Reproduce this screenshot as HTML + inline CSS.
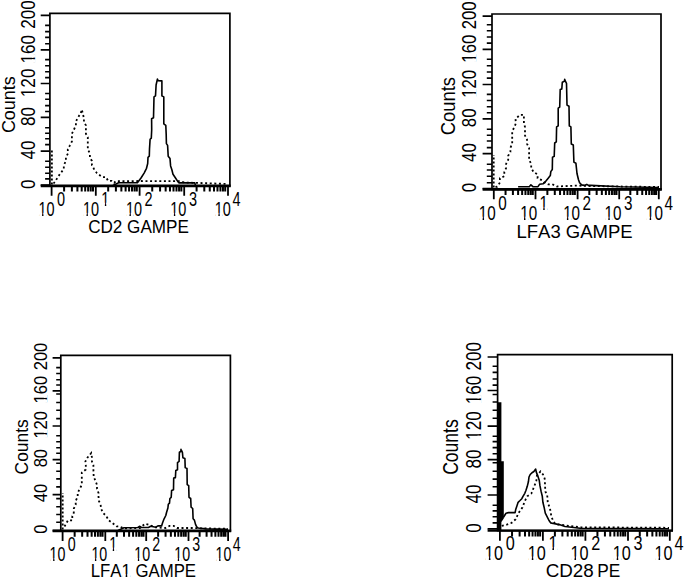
<!DOCTYPE html>
<html><head><meta charset="utf-8"><style>
html,body{margin:0;padding:0;background:#fff;overflow:hidden;width:685px;height:579px;}
svg{display:block;}
text{font-family:"Liberation Sans",sans-serif;font-size:17px;fill:#000;font-kerning:none;}
</style></head><body>
<svg width="685" height="579" viewBox="0 0 685 579">
<rect width="685" height="579" fill="#fff"/>
<path d="M49.9 13.3H229.9V185.8H49.9Z" fill="none" stroke="#000" stroke-width="1.7"/>
<path d="M40.7 185.8H230.7" stroke="#000" stroke-width="2.8"/>
<path d="M40.7 185.1H49.9M40.7 151.1H49.9M40.7 117.3H49.9M40.7 83.5H49.9M40.7 49.8H49.9M40.7 15.3H49.9" stroke="#000" stroke-width="1.7"/>
<path d="M45.1 25.4H49.9M45.1 31.6H49.9M45.1 37.4H49.9M45.1 43.8H49.9M45.1 59.6H49.9M45.1 65.7H49.9M45.1 71.8H49.9M45.1 77.6H49.9M45.1 93.5H49.9M45.1 99.3H49.9M45.1 105.6H49.9M45.1 111.5H49.9M45.1 127.7H49.9M45.1 133.2H49.9M45.1 138.7H49.9M45.1 144.6H49.9M45.1 161.2H49.9M45.1 167.2H49.9M45.1 173.2H49.9M45.1 178.9H49.9" stroke="#000" stroke-width="1.6"/>
<path d="M51.6 185.8V195.8M95.8 185.8V195.8M139.6 185.8V195.8M184.2 185.8V195.8M228 185.8V195.8" stroke="#000" stroke-width="1.8"/>
<path d="M64.11 185.8V191.6M71.89 185.8V191.6M77.41 185.8V191.6M81.69 185.8V191.6M85.19 185.8V191.6M88.15 185.8V191.6M90.72 185.8V191.6M92.98 185.8V191.6M108.19 185.8V191.6M115.9 185.8V191.6M121.37 185.8V191.6M125.61 185.8V191.6M129.08 185.8V191.6M132.02 185.8V191.6M134.56 185.8V191.6M136.8 185.8V191.6M152.23 185.8V191.6M160.08 185.8V191.6M165.65 185.8V191.6M169.97 185.8V191.6M173.51 185.8V191.6M176.49 185.8V191.6M179.08 185.8V191.6M181.36 185.8V191.6M196.59 185.8V191.6M204.3 185.8V191.6M209.77 185.8V191.6M214.01 185.8V191.6M217.48 185.8V191.6M220.42 185.8V191.6M222.96 185.8V191.6M225.2 185.8V191.6" stroke="#000" stroke-width="2.0"/>
<g transform="translate(34.9 184.1) rotate(-90) translate(-4.79 0) scale(0.88 1)"><text style="font-size:19.5px">0</text></g>
<g transform="translate(34.9 150.1) rotate(-90) translate(-9.45 0) scale(0.88 1)"><text style="font-size:19.5px">40</text></g>
<g transform="translate(34.9 116.3) rotate(-90) translate(-9.62 0) scale(0.88 1)"><text style="font-size:19.5px">80</text></g>
<g transform="translate(34.9 82.5) rotate(-90) translate(-14.7 0) scale(0.88 1)"><text style="font-size:19.5px">120</text><rect x="0.88" y="-2.92" width="3.94" height="3.9" fill="#fff"/><rect x="6.69" y="-2.92" width="3.74" height="3.9" fill="#fff"/></g>
<g transform="translate(34.9 48.8) rotate(-90) translate(-14.7 0) scale(0.88 1)"><text style="font-size:19.5px">160</text><rect x="0.88" y="-2.92" width="3.94" height="3.9" fill="#fff"/><rect x="6.69" y="-2.92" width="3.74" height="3.9" fill="#fff"/></g>
<g transform="translate(34.9 14.3) rotate(-90) translate(-14.47 0) scale(0.88 1)"><text style="font-size:19.5px">200</text></g>
<text transform="translate(14.6 104.5) rotate(-90) translate(-28.62 0) scale(0.9464 1)" style="font-size:19px">Counts</text>
<g transform="translate(38.5 215.7) scale(0.75 1)"><text style="font-size:19.3px">10</text><rect x="0.87" y="-2.9" width="3.9" height="3.86" fill="#fff"/><rect x="6.62" y="-2.9" width="3.71" height="3.86" fill="#fff"/></g>
<g transform="translate(57.09 205.6) scale(0.75 1)"><text style="font-size:19.3px">0</text></g>
<g transform="translate(82.9 215.7) scale(0.75 1)"><text style="font-size:19.3px">10</text><rect x="0.87" y="-2.9" width="3.9" height="3.86" fill="#fff"/><rect x="6.62" y="-2.9" width="3.71" height="3.86" fill="#fff"/></g>
<g transform="translate(101.29 205.6) scale(0.75 1)"><text style="font-size:19.3px">1</text><rect x="0.87" y="-2.9" width="3.9" height="3.86" fill="#fff"/><rect x="6.62" y="-2.9" width="3.71" height="3.86" fill="#fff"/></g>
<g transform="translate(125.9 215.7) scale(0.75 1)"><text style="font-size:19.3px">10</text><rect x="0.87" y="-2.9" width="3.9" height="3.86" fill="#fff"/><rect x="6.62" y="-2.9" width="3.71" height="3.86" fill="#fff"/></g>
<g transform="translate(144.49 205.6) scale(0.75 1)"><text style="font-size:19.3px">2</text></g>
<g transform="translate(170.3 215.7) scale(0.75 1)"><text style="font-size:19.3px">10</text><rect x="0.87" y="-2.9" width="3.9" height="3.86" fill="#fff"/><rect x="6.62" y="-2.9" width="3.71" height="3.86" fill="#fff"/></g>
<g transform="translate(188.93 205.6) scale(0.75 1)"><text style="font-size:19.3px">3</text></g>
<g transform="translate(214.8 215.7) scale(0.75 1)"><text style="font-size:19.3px">10</text><rect x="0.87" y="-2.9" width="3.9" height="3.86" fill="#fff"/><rect x="6.62" y="-2.9" width="3.71" height="3.86" fill="#fff"/></g>
<g transform="translate(232.43 205.6) scale(0.75 1)"><text style="font-size:19.3px">4</text></g>
<g transform="translate(88.13 232.7) scale(0.9508 1)"><text style="font-size:18px">CD2 GAMPE</text></g>
<polyline points="53.5,183.5 55.7,180.8 57.7,177.1 60.8,173 63.8,168.9 63.8,165.3 65.9,161 65.9,157.2 67.9,153.6 67.8,149.2 69.8,145.6 71.9,141.5 71.9,133.7 74,129.5 75.9,125.4 75.9,121.6 77.8,117.6 80.7,113.5 81.8,109.5 83.8,117.6 84,121.6 85.9,125.4 85.9,133.7 87.8,137.3 87.8,149.2 89.9,153.6 89.9,157.2 91.9,161 91.9,165.3 94,168.9 96.8,173 102.1,177.1 106,177.1 108.1,180.8 111.8,180.8 114.2,182.7 116,181 125,181.2 140,181 160,181.2 179,181.2 185,182.5 200,183 228,184" fill="none" stroke="#000" stroke-width="1.8" stroke-dasharray="2 2.6"/>
<polyline points="51.9,184.5 51.9,150.5" fill="none" stroke="#000" stroke-width="1.8" stroke-dasharray="2 2"/>
<polyline points="113,185.5 118.6,182.8 137.4,182.8 141,178 144.1,173.1 146.5,168.3 147.7,163.5 148,157.4 149.3,156.2 149.5,149 150.1,139.3 151.3,138.1 151.7,129.7 151.6,118.7 153.5,117.7 154,96.9 155.5,95.9 156.1,85 157.4,79.1 158.1,80.6 161.9,80.9 161.9,95.9 163.8,96.9 163.8,123.9 165.8,125.4 166.2,134.5 166.4,143.6 167.6,145.4 168.2,156.2 170,158.6 170.6,165.9 171.8,169.5 173,174.3 175.5,178 177.9,181.6 179.1,182.9 194.8,182.9 195.5,185.5" fill="none" stroke="#000" stroke-width="1.6" stroke-linejoin="round"/>
<path d="M492 14H661V189.3H492Z" fill="none" stroke="#000" stroke-width="1.7"/>
<path d="M482.6 189.3H661.8" stroke="#000" stroke-width="2.8"/>
<path d="M482.6 188.7H492M482.6 153.7H492M482.6 118.8H492M482.6 84.5H492M482.6 49.4H492M482.6 16.2H492" stroke="#000" stroke-width="1.7"/>
<path d="M486.8 24.7H492M486.8 30.7H492M486.8 37H492M486.8 43.1H492M486.8 59.3H492M486.8 65.8H492M486.8 72H492M486.8 78.1H492M486.8 94.4H492M486.8 100.5H492M486.8 106.7H492M486.8 112.8H492M486.8 129.3H492M486.8 135.2H492M486.8 141H492M486.8 147.6H492M486.8 164.2H492M486.8 170H492M486.8 176.2H492M486.8 182.7H492" stroke="#000" stroke-width="1.6"/>
<path d="M493.8 189.3V199.3M535.5 189.3V199.3M577.6 189.3V199.3M619.2 189.3V199.3M658.8 189.3V199.3" stroke="#000" stroke-width="1.8"/>
<path d="M505.55 189.3V195.1M512.9 189.3V195.1M518.11 189.3V195.1M522.15 189.3V195.1M525.45 189.3V195.1M528.24 189.3V195.1M530.66 189.3V195.1M532.79 189.3V195.1M547.37 189.3V195.1M554.79 189.3V195.1M560.05 189.3V195.1M564.13 189.3V195.1M567.46 189.3V195.1M570.28 189.3V195.1M572.72 189.3V195.1M574.87 189.3V195.1M589.32 189.3V195.1M596.65 189.3V195.1M601.85 189.3V195.1M605.88 189.3V195.1M609.17 189.3V195.1M611.96 189.3V195.1M614.37 189.3V195.1M616.5 189.3V195.1M630.32 189.3V195.1M637.29 189.3V195.1M642.24 189.3V195.1M646.08 189.3V195.1M649.21 189.3V195.1M651.87 189.3V195.1M654.16 189.3V195.1M656.19 189.3V195.1" stroke="#000" stroke-width="2.0"/>
<g transform="translate(475.6 187.7) rotate(-90) translate(-4.66 0) scale(0.83 1)"><text style="font-size:20.2px">0</text></g>
<g transform="translate(475.6 152.7) rotate(-90) translate(-9.19 0) scale(0.83 1)"><text style="font-size:20.2px">40</text></g>
<g transform="translate(475.6 117.8) rotate(-90) translate(-9.36 0) scale(0.83 1)"><text style="font-size:20.2px">80</text></g>
<g transform="translate(475.6 83.5) rotate(-90) translate(-14.29 0) scale(0.83 1)"><text style="font-size:20.2px">120</text><rect x="0.91" y="-3.03" width="4.08" height="4.04" fill="#fff"/><rect x="6.93" y="-3.03" width="3.88" height="4.04" fill="#fff"/></g>
<g transform="translate(475.6 48.4) rotate(-90) translate(-14.29 0) scale(0.83 1)"><text style="font-size:20.2px">160</text><rect x="0.91" y="-3.03" width="4.08" height="4.04" fill="#fff"/><rect x="6.93" y="-3.03" width="3.88" height="4.04" fill="#fff"/></g>
<g transform="translate(475.6 15.2) rotate(-90) translate(-14.08 0) scale(0.83 1)"><text style="font-size:20.2px">200</text></g>
<text transform="translate(454.7 106) rotate(-90) translate(-29.34 0) scale(0.9218 1)" style="font-size:20px">Counts</text>
<g transform="translate(478.84 219.7) scale(0.75 1)"><text style="font-size:20.3px">10</text><rect x="0.91" y="-3.04" width="4.1" height="4.06" fill="#fff"/><rect x="6.96" y="-3.04" width="3.9" height="4.06" fill="#fff"/></g>
<g transform="translate(498.27 209.9) scale(0.75 1)"><text style="font-size:20.3px">0</text></g>
<g transform="translate(520.24 219.7) scale(0.75 1)"><text style="font-size:20.3px">10</text><rect x="0.91" y="-3.04" width="4.1" height="4.06" fill="#fff"/><rect x="6.96" y="-3.04" width="3.9" height="4.06" fill="#fff"/></g>
<g transform="translate(539.47 209.9) scale(0.75 1)"><text style="font-size:20.3px">1</text><rect x="0.91" y="-3.04" width="4.1" height="4.06" fill="#fff"/><rect x="6.96" y="-3.04" width="3.9" height="4.06" fill="#fff"/></g>
<g transform="translate(563.14 219.7) scale(0.75 1)"><text style="font-size:20.3px">10</text><rect x="0.91" y="-3.04" width="4.1" height="4.06" fill="#fff"/><rect x="6.96" y="-3.04" width="3.9" height="4.06" fill="#fff"/></g>
<g transform="translate(582.57 209.9) scale(0.75 1)"><text style="font-size:20.3px">2</text></g>
<g transform="translate(604.54 219.7) scale(0.75 1)"><text style="font-size:20.3px">10</text><rect x="0.91" y="-3.04" width="4.1" height="4.06" fill="#fff"/><rect x="6.96" y="-3.04" width="3.9" height="4.06" fill="#fff"/></g>
<g transform="translate(624.02 209.9) scale(0.75 1)"><text style="font-size:20.3px">3</text></g>
<g transform="translate(645.94 219.7) scale(0.75 1)"><text style="font-size:20.3px">10</text><rect x="0.91" y="-3.04" width="4.1" height="4.06" fill="#fff"/><rect x="6.96" y="-3.04" width="3.9" height="4.06" fill="#fff"/></g>
<g transform="translate(664.42 209.9) scale(0.75 1)"><text style="font-size:20.3px">4</text></g>
<g transform="translate(516.48 237.6) scale(1.0291 1)"><text style="font-size:18px">LFA3 GAMPE</text></g>
<polyline points="495.5,187 497.2,186.7 499.9,182.6 499.9,178.2 504.3,176.2 504.3,172.1 506.1,168 506.1,163.9 508.2,159.8 508.2,155.7 510.4,151.9 510.4,147.8 512.2,143.8 512.2,131.2 514.4,127.1 515.9,123.2 515.5,119 519.9,114.9 523.9,114.9 523.9,119 523.9,123.2 525,127.1 525,135.6 527,139.4 527,143.8 529.1,147.8 529.1,159.8 531.2,163.9 531.2,168 533.6,172.1 537.6,174.4 537.6,178.2 541.9,180.2 544.1,182.3 548.2,184.3 552.3,184.3 556.9,186.5 576,185.6 590,186 620,186.5 659,187" fill="none" stroke="#000" stroke-width="1.8" stroke-dasharray="2 2.6"/>
<polyline points="493.7,187.5 493.7,155" fill="none" stroke="#000" stroke-width="1.8" stroke-dasharray="2 2"/>
<polyline points="518.1,186.7 529.3,186.7 530.9,184.8 532.9,186.7 538,186.7 539.5,184.3 543.1,183.8 545.7,181.3 548.2,178.2 550.3,175.6 550.8,171.6 552.3,169.5 552.5,157.3 554.2,156.4 554.7,143 556.3,141.9 556.6,126.9 558.2,125.9 558.2,108.2 559.7,107.2 560.2,89.6 561.8,89 562.3,82.3 564.4,81.3 564.7,79.4 564.9,80.2 566.5,83.3 567,105.1 569,106.2 569.3,125.9 570.9,126.9 571.3,144 573.3,145 573.9,162.1 575.9,163.2 577,173.5 578.5,179.7 579.6,182.8 581.6,184.9 584.2,185.4 586.8,184.4 588.4,185.4 591,185.4 620,186.8 659,187.5" fill="none" stroke="#000" stroke-width="1.6" stroke-linejoin="round"/>
<path d="M60.8 355.4H230.4V530.9H60.8Z" fill="none" stroke="#000" stroke-width="1.7"/>
<path d="M52.6 530.9H231.2" stroke="#000" stroke-width="2.8"/>
<path d="M52.6 530.7H60.8M52.6 494.6H60.8M52.6 459.6H60.8M52.6 426H60.8M52.6 390.9H60.8M52.6 357.9H60.8" stroke="#000" stroke-width="1.7"/>
<path d="M56.2 367.6H60.8M56.2 373.5H60.8M56.2 379.7H60.8M56.2 385H60.8M56.2 394H60.8M56.2 402.5H60.8M56.2 410.3H60.8M56.2 418.6H60.8M56.2 435.8H60.8M56.2 441.8H60.8M56.2 447.8H60.8M56.2 453.2H60.8M56.2 463.2H60.8M56.2 471.3H60.8M56.2 478.9H60.8M56.2 486.9H60.8M56.2 498.6H60.8M56.2 506.7H60.8M56.2 514.5H60.8M56.2 522.2H60.8" stroke="#000" stroke-width="1.6"/>
<path d="M62.6 530.9V540.9M105.3 530.9V540.9M146.2 530.9V540.9M188.5 530.9V540.9M228.1 530.9V540.9" stroke="#000" stroke-width="1.8"/>
<path d="M74.65 530.9V536.7M82.17 530.9V536.7M87.51 530.9V536.7M91.65 530.9V536.7M95.03 530.9V536.7M97.89 530.9V536.7M100.36 530.9V536.7M102.55 530.9V536.7M116.81 530.9V536.7M124.01 530.9V536.7M129.12 530.9V536.7M133.09 530.9V536.7M136.33 530.9V536.7M139.06 530.9V536.7M141.44 530.9V536.7M143.53 530.9V536.7M158.13 530.9V536.7M165.58 530.9V536.7M170.87 530.9V536.7M174.97 530.9V536.7M178.32 530.9V536.7M181.15 530.9V536.7M183.6 530.9V536.7M185.76 530.9V536.7M199.62 530.9V536.7M206.59 530.9V536.7M211.54 530.9V536.7M215.38 530.9V536.7M218.51 530.9V536.7M221.17 530.9V536.7M223.46 530.9V536.7M225.49 530.9V536.7" stroke="#000" stroke-width="2.0"/>
<g transform="translate(46.6 529.2) rotate(-90) translate(-4.6 0) scale(0.91 1)"><text style="font-size:18.2px">0</text></g>
<g transform="translate(46.6 493.1) rotate(-90) translate(-9.08 0) scale(0.91 1)"><text style="font-size:18.2px">40</text></g>
<g transform="translate(46.6 458.1) rotate(-90) translate(-9.24 0) scale(0.91 1)"><text style="font-size:18.2px">80</text></g>
<g transform="translate(46.6 424.5) rotate(-90) translate(-14.12 0) scale(0.91 1)"><text style="font-size:18.2px">120</text><rect x="0.82" y="-2.73" width="3.68" height="3.64" fill="#fff"/><rect x="6.24" y="-2.73" width="3.49" height="3.64" fill="#fff"/></g>
<g transform="translate(46.6 389.4) rotate(-90) translate(-14.12 0) scale(0.91 1)"><text style="font-size:18.2px">160</text><rect x="0.82" y="-2.73" width="3.68" height="3.64" fill="#fff"/><rect x="6.24" y="-2.73" width="3.49" height="3.64" fill="#fff"/></g>
<g transform="translate(46.6 356.4) rotate(-90) translate(-13.9 0) scale(0.91 1)"><text style="font-size:18.2px">200</text></g>
<text transform="translate(27.7 446.7) rotate(-90) translate(-27.69 0) scale(0.9507 1)" style="font-size:18.3px">Counts</text>
<g transform="translate(49.62 561.1) scale(0.72 1)"><text style="font-size:19.8px">10</text><rect x="0.89" y="-2.97" width="4" height="3.96" fill="#fff"/><rect x="6.79" y="-2.97" width="3.8" height="3.96" fill="#fff"/></g>
<g transform="translate(67.64 550.5) scale(0.72 1)"><text style="font-size:19.8px">0</text></g>
<g transform="translate(91.42 561.1) scale(0.72 1)"><text style="font-size:19.8px">10</text><rect x="0.89" y="-2.97" width="4" height="3.96" fill="#fff"/><rect x="6.79" y="-2.97" width="3.8" height="3.96" fill="#fff"/></g>
<g transform="translate(109.24 550.5) scale(0.72 1)"><text style="font-size:19.8px">1</text><rect x="0.89" y="-2.97" width="4" height="3.96" fill="#fff"/><rect x="6.79" y="-2.97" width="3.8" height="3.96" fill="#fff"/></g>
<g transform="translate(134.32 561.1) scale(0.72 1)"><text style="font-size:19.8px">10</text><rect x="0.89" y="-2.97" width="4" height="3.96" fill="#fff"/><rect x="6.79" y="-2.97" width="3.8" height="3.96" fill="#fff"/></g>
<g transform="translate(152.34 550.5) scale(0.72 1)"><text style="font-size:19.8px">2</text></g>
<g transform="translate(174.22 561.1) scale(0.72 1)"><text style="font-size:19.8px">10</text><rect x="0.89" y="-2.97" width="4" height="3.96" fill="#fff"/><rect x="6.79" y="-2.97" width="3.8" height="3.96" fill="#fff"/></g>
<g transform="translate(192.28 550.5) scale(0.72 1)"><text style="font-size:19.8px">3</text></g>
<g transform="translate(215.62 561.1) scale(0.72 1)"><text style="font-size:19.8px">10</text><rect x="0.89" y="-2.97" width="4" height="3.96" fill="#fff"/><rect x="6.79" y="-2.97" width="3.8" height="3.96" fill="#fff"/></g>
<g transform="translate(232.68 550.5) scale(0.72 1)"><text style="font-size:19.8px">4</text></g>
<g transform="translate(90.72 577) scale(0.9326 1)"><text style="font-size:18px">LFA1 GAMPE</text><rect x="33.82" y="-2.7" width="3.64" height="3.6" fill="#fff"/><rect x="39.19" y="-2.7" width="3.46" height="3.6" fill="#fff"/></g>
<polyline points="64.5,526.5 65.8,524.2 68,520.3 72.3,520.3 72.3,516.2 73.8,512.6 73.8,508.7 75.7,504.6 75.7,501 77.7,496.6 77.7,493 79.6,488.9 81.8,485 81.8,472.7 85.8,469.5 85.8,465.1 85.4,461.4 87.6,457.4 91.2,453.1 91.9,457.4 91.9,461.4 93.4,465.1 93.4,469.5 93.7,477 95.6,481.1 97,485 97,488.9 98.5,493 98.5,496.6 98.9,501 100.6,504.6 101.1,508.7 102.8,512.6 106.4,516.2 108.6,520.3 112,522.7 116.6,526.4 119.5,526.4 123.9,528.4 140,528 145,523.8 150.7,525.4 155,527.3 165.4,528 169.5,525.9 173.7,525.9 177,528 194,528 200,528.3 228,528.8" fill="none" stroke="#000" stroke-width="1.8" stroke-dasharray="2 2.6"/>
<polyline points="62.7,529.5 62.7,493" fill="none" stroke="#000" stroke-width="1.8" stroke-dasharray="2 2"/>
<polyline points="118,530.5 123.9,527.8 137.9,527.5 139.5,526.3 141.5,527.5 148.4,527.5 150.7,526.3 155.8,527.2 157.9,525.9 161.6,525.9 162.5,523 164.1,518.8 165.8,515.5 166.6,512.2 167.9,508 168.3,504.3 169.5,503.1 169.9,498.5 171.2,497.3 171.6,490.6 173.5,489.8 173.7,478 175.4,477.6 175.8,470.5 177.5,469.7 177.5,462.6 179.1,461.4 179.4,452.3 180.8,451.5 181,449.2 181.2,449.8 182.4,452.3 182.9,457.7 184.9,458.5 185.2,467.6 187,468.4 187.2,484.6 188.7,485.6 189,497.3 190.7,498.5 191.1,507.2 192.7,508.5 193.1,518.8 194.4,520.1 195.6,524.6 196.9,527.1 198.1,528 206,528.9 228,529.4" fill="none" stroke="#000" stroke-width="1.6" stroke-linejoin="round"/>
<path d="M497.6 354.6H672.2V530.7H497.6Z" fill="none" stroke="#000" stroke-width="1.7"/>
<path d="M487.6 530.7H673" stroke="#000" stroke-width="2.2"/>
<path d="M487.6 528.9H497.6M487.6 495H497.6M487.6 459.7H497.6M487.6 426.1H497.6M487.6 390.5H497.6M487.6 357H497.6" stroke="#000" stroke-width="1.7"/>
<path d="M492.6 366.3H497.6M492.6 372.4H497.6M492.6 379H497.6M492.6 385.1H497.6M492.6 394.5H497.6M492.6 402H497.6M492.6 410.2H497.6M492.6 418.3H497.6M492.6 436.2H497.6M492.6 441.6H497.6M492.6 447.6H497.6M492.6 453.7H497.6M492.6 462.8H497.6M492.6 471.2H497.6M492.6 479.1H497.6M492.6 486.8H497.6M492.6 505.2H497.6M492.6 510.9H497.6M492.6 516.8H497.6M492.6 522.9H497.6" stroke="#000" stroke-width="1.6"/>
<path d="M499.9 530.7V540.7M542.9 530.7V540.7M585.4 530.7V540.7M628 530.7V540.7M669.8 530.7V540.7" stroke="#000" stroke-width="1.8"/>
<path d="M512.04 530.7V536.5M519.62 530.7V536.5M524.99 530.7V536.5M529.16 530.7V536.5M532.56 530.7V536.5M535.44 530.7V536.5M537.93 530.7V536.5M540.13 530.7V536.5M554.89 530.7V536.5M562.38 530.7V536.5M567.69 530.7V536.5M571.81 530.7V536.5M575.17 530.7V536.5M578.02 530.7V536.5M580.48 530.7V536.5M582.66 530.7V536.5M597.42 530.7V536.5M604.93 530.7V536.5M610.25 530.7V536.5M614.38 530.7V536.5M617.75 530.7V536.5M620.6 530.7V536.5M623.07 530.7V536.5M625.25 530.7V536.5M639.78 530.7V536.5M647.14 530.7V536.5M652.37 530.7V536.5M656.42 530.7V536.5M659.73 530.7V536.5M662.53 530.7V536.5M664.95 530.7V536.5M667.09 530.7V536.5" stroke="#000" stroke-width="2.0"/>
<g transform="translate(480.7 528) rotate(-90) translate(-4.79 0) scale(0.79 1)"><text style="font-size:21.7px">0</text></g>
<g transform="translate(480.7 494.1) rotate(-90) translate(-9.44 0) scale(0.79 1)"><text style="font-size:21.7px">40</text></g>
<g transform="translate(480.7 458.8) rotate(-90) translate(-9.61 0) scale(0.79 1)"><text style="font-size:21.7px">80</text></g>
<g transform="translate(480.7 425.2) rotate(-90) translate(-14.69 0) scale(0.79 1)"><text style="font-size:21.7px">120</text><rect x="0.98" y="-3.25" width="4.38" height="4.34" fill="#fff"/><rect x="7.44" y="-3.25" width="4.17" height="4.34" fill="#fff"/></g>
<g transform="translate(480.7 389.6) rotate(-90) translate(-14.69 0) scale(0.79 1)"><text style="font-size:21.7px">160</text><rect x="0.98" y="-3.25" width="4.38" height="4.34" fill="#fff"/><rect x="7.44" y="-3.25" width="4.17" height="4.34" fill="#fff"/></g>
<g transform="translate(480.7 356.1) rotate(-90) translate(-14.46 0) scale(0.79 1)"><text style="font-size:21.7px">200</text></g>
<text transform="translate(458.4 446.9) rotate(-90) translate(-27.95 0) scale(0.8205 1)" style="font-size:21.4px">Counts</text>
<g transform="translate(484.87 559.5) scale(0.8 1)"><text style="font-size:20.3px">10</text><rect x="0.91" y="-3.04" width="4.1" height="4.06" fill="#fff"/><rect x="6.96" y="-3.04" width="3.9" height="4.06" fill="#fff"/></g>
<g transform="translate(505.71 549.9) scale(0.8 1)"><text style="font-size:20.3px">0</text></g>
<g transform="translate(527.77 559.5) scale(0.8 1)"><text style="font-size:20.3px">10</text><rect x="0.91" y="-3.04" width="4.1" height="4.06" fill="#fff"/><rect x="6.96" y="-3.04" width="3.9" height="4.06" fill="#fff"/></g>
<g transform="translate(548.39 549.9) scale(0.8 1)"><text style="font-size:20.3px">1</text><rect x="0.91" y="-3.04" width="4.1" height="4.06" fill="#fff"/><rect x="6.96" y="-3.04" width="3.9" height="4.06" fill="#fff"/></g>
<g transform="translate(570.47 559.5) scale(0.8 1)"><text style="font-size:20.3px">10</text><rect x="0.91" y="-3.04" width="4.1" height="4.06" fill="#fff"/><rect x="6.96" y="-3.04" width="3.9" height="4.06" fill="#fff"/></g>
<g transform="translate(591.31 549.9) scale(0.8 1)"><text style="font-size:20.3px">2</text></g>
<g transform="translate(612.67 559.5) scale(0.8 1)"><text style="font-size:20.3px">10</text><rect x="0.91" y="-3.04" width="4.1" height="4.06" fill="#fff"/><rect x="6.96" y="-3.04" width="3.9" height="4.06" fill="#fff"/></g>
<g transform="translate(633.56 549.9) scale(0.8 1)"><text style="font-size:20.3px">3</text></g>
<g transform="translate(654.57 559.5) scale(0.8 1)"><text style="font-size:20.3px">10</text><rect x="0.91" y="-3.04" width="4.1" height="4.06" fill="#fff"/><rect x="6.96" y="-3.04" width="3.9" height="4.06" fill="#fff"/></g>
<g transform="translate(674.46 549.9) scale(0.8 1)"><text style="font-size:20.3px">4</text></g>
<g transform="translate(545.64 577) scale(1.0443 1)"><text style="font-size:18px">CD28</text></g>
<g transform="translate(597.28 577) scale(0.9604 1)"><text style="font-size:18px">PE</text></g>
<polyline points="501.8,525.9 506.7,524.7 511.5,522.9 515.7,519.3 518.5,513 522.4,507.5 524.8,501.1 527.2,496.3 531.4,493.5 533.9,487.2 536.3,481 536.9,475.7 540.5,471.5 543,474.5 544.7,478.7 545,484 545.3,491.4 547.2,495.1 547.8,502.9 549.6,507.2 550.5,511 551.4,517 554.4,522.9 558,524.5 565,525.3 580,527.3 669,527.8" fill="none" stroke="#000" stroke-width="1.8" stroke-dasharray="2 2.6"/>
<polyline points="503.3,517.5 506,513.2 508.5,512.6 515.1,512.6 515.7,509.6 516.9,506 518.1,502.3 520,500.5 521.8,498.7 523,496.3 524.8,493.3 526,490.2 527.2,486.6 528.4,481.8 529,477 530.2,474.5 532,472.7 533.9,471.5 535.7,469.1 536.3,472.1 537.5,475.1 539.3,480.6 539.9,485.4 541.1,491.4 542.3,496.3 542.9,502.3 544.1,507.2 545.3,513.2 547.2,516.8 549,520.5 550.8,522.9 553.2,523.5 556.8,524.1 560,524.7 565,526.5 580,528.3 669,528.8" fill="none" stroke="#000" stroke-width="1.6" stroke-linejoin="round"/>
<path d="M497.6 530.5V402.3H501.4V461.3H503.8V518.5L501.4 522V530.5Z" fill="#000"/>
</svg>
</body></html>
